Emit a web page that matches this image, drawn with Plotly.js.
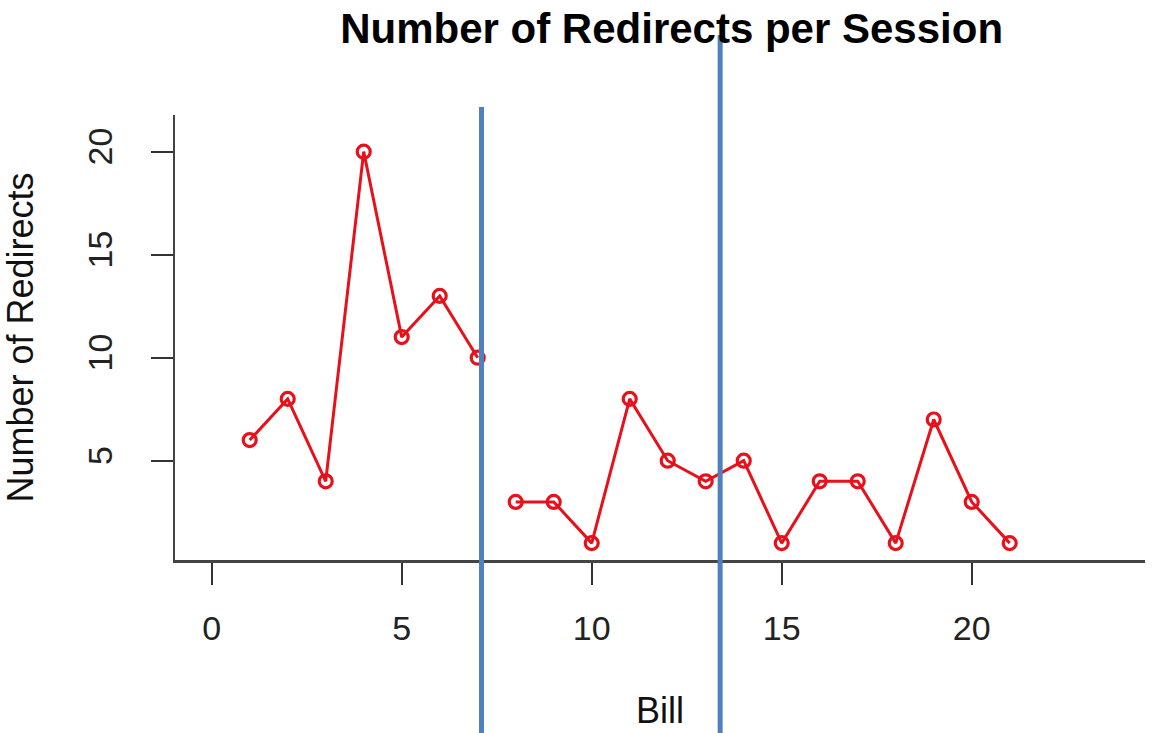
<!DOCTYPE html>
<html>
<head>
<meta charset="utf-8">
<script src="https://cdn.plot.ly/plotly-3.0.1.min.js"></script>
<style>html,body{margin:0;padding:0;background:#fff;}#chart{width:1155px;height:733px;}</style>
</head>
<body>
<div id="chart"></div>
<script>
// Data
var bills = [1, 2, 3, 4, 5, 6, 7, 8, 9, 10, 11, 12, 13, 14, 15, 16, 17, 18, 19, 20, 21];
var redirects = [6, 8, 4, 20, 11, 13, 10, 3, 3, 1, 8, 5, 4, 5, 1, 4, 4, 1, 7, 3, 1];
var breakAfterBill = 7;           // no connecting line between bill 7 and bill 8
var dividerBills = [7.1, 13.38];  // blue vertical lines
var xTicks = [0, 5, 10, 15, 20];
var yTicks = [5, 10, 15, 20];

var chartTitle = "Number of Redirects per Session";
var xTitle = "Bill";
var yTitle = "Number of Redirects";

var seg1x = [], seg1y = [], seg2x = [], seg2y = [];
bills.forEach(function (b, i) {
  if (b <= breakAfterBill) { seg1x.push(b); seg1y.push(redirects[i]); }
  else { seg2x.push(b); seg2y.push(redirects[i]); }
});

var red = "rgb(232,16,26)";
function seg(x, y) {
  return {
    x: x, y: y, type: "scatter", mode: "lines+markers",
    line: {color: red, width: 3},
    marker: {symbol: "circle-open", size: 13, color: red, line: {color: red, width: 3.2}},
    showlegend: false, cliponaxis: false, hoverinfo: "x+y"
  };
}
var data = [seg(seg1x, seg1y), seg(seg2x, seg2y)];

var plotTop = 115, plotBottom = 560;
var plotH = plotBottom - plotTop;
var topsPx = [107, 35];
var shapes = dividerBills.map(function (b, i) {
  return {
    type: "line", xref: "x", yref: "paper",
    x0: b, x1: b,
    y0: (plotBottom - 740) / plotH,
    y1: (plotBottom - topsPx[i]) / plotH,
    line: {color: "rgb(79,129,189)", width: 5},
    layer: "above"
  };
});

var font = "'Liberation Sans', Arial, Helvetica, sans-serif";
var layout = {
  width: 1155, height: 733,
  paper_bgcolor: "#fff", plot_bgcolor: "#fff",
  margin: {l: 175, r: 10, t: plotTop, b: 733 - plotBottom, pad: 0},
  font: {family: font, color: "#222"},
  title: {
    text: "<b>" + chartTitle + "</b>",
    font: {family: font, size: 42, color: "#000"},
    xref: "paper", x: 0.512, xanchor: "center",
    yref: "container", y: 0.962, yanchor: "middle"
  },
  xaxis: {
    range: [-0.966, 24.56],
    tickmode: "array", tickvals: xTicks, ticktext: xTicks.map(String),
    ticks: "outside", ticklen: 22, tickwidth: 2, tickcolor: "#333",
    showline: true, linecolor: "#444", linewidth: 2.5,
    showgrid: false, zeroline: false,
    tickfont: {size: 34, color: "#222"},
    ticklabelstandoff: 15,
    title: {text: xTitle, font: {size: 36, color: "#111"}, standoff: 52}
  },
  yaxis: {
    range: [0.18, 21.78],
    tickmode: "array", tickvals: yTicks, ticktext: yTicks.map(String),
    ticks: "outside", ticklen: 22, tickwidth: 2, tickcolor: "#333",
    showline: true, linecolor: "#444", linewidth: 2.5,
    showgrid: false, zeroline: false,
    tickangle: -90,
    tickfont: {size: 34, color: "#222"},
    ticklabelstandoff: 25,
    title: {text: yTitle, font: {size: 36, color: "#111"}, standoff: 40}
  },
  shapes: shapes
};

Plotly.newPlot("chart", data, layout, {displayModeBar: false, staticPlot: true});
</script>
</body>
</html>
